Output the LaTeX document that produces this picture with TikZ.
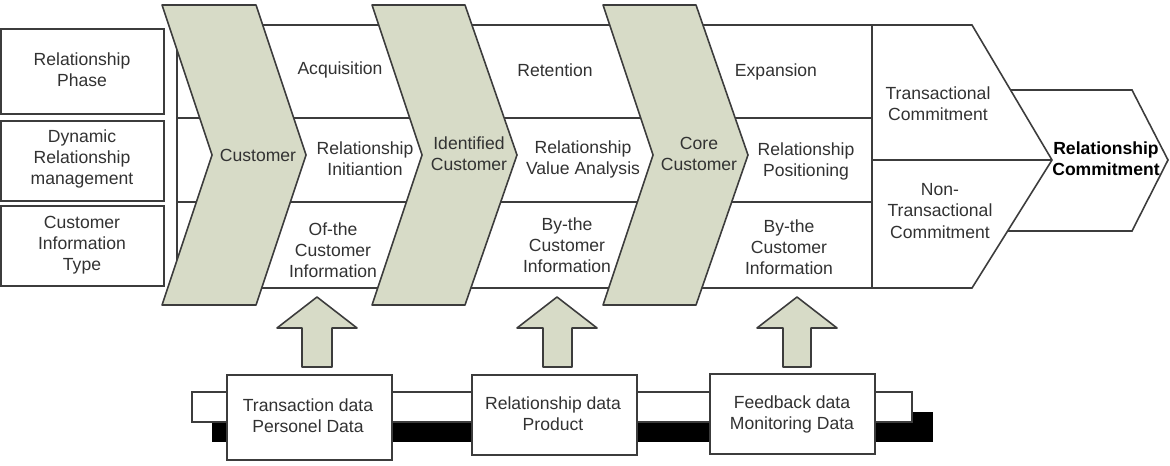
\documentclass[tikz,border=0pt]{standalone}
\usepackage{fontspec}
\setmainfont{Liberation Sans}
\usepackage{xcolor}
\usepackage{tikz}
\definecolor{chevfill}{RGB}{215,219,199}
\definecolor{edgegray}{RGB}{60,60,60}
\definecolor{textgray}{RGB}{50,50,50}

\begin{document}
\begin{tikzpicture}[x=0.02cm,y=-0.02cm,
        lbl/.style={font=\fontsize{10}{12}\selectfont, text=textgray, align=center, inner sep=0pt},
        box/.style={draw=edgegray, line width=0.9pt, fill=white},
        chev/.style={draw=edgegray, line width=0.9pt, fill=chevfill, line join=round}]

        \useasboundingbox (0,0) rectangle (1170,466);

        %% Final arrow, partly hidden behind the commitment block
        \draw [box] (1000,90) -- (1132,90) -- (1168,160) -- (1132,231) -- (1000,231) -- cycle;

        %% Commitment block
        \draw [box] (872,25) -- (972,25) -- (1052,160) -- (972,288) -- (872,288) -- cycle;
        \draw [box] (872,160) -- (1052,160);

        %% The three rows of the band
        \draw [box] (177,25) rectangle (872,118);
        \draw [box] (177,118) rectangle (872,202);
        \draw [box] (177,202) rectangle (872,288);
        \draw [edgegray, line width=1.5pt] (177,118) -- (872,118);
        \draw [edgegray, line width=1.5pt] (177,202) -- (872,202);

        %% Left-hand boxes
        \draw [box] (1,29) rectangle (164,114);
        \draw [box] (1,121) rectangle (164,201);
        \draw [box] (1,206) rectangle (164,286);

        %% Chevrons
        \draw [chev] (162,5) -- (256,5) -- (306,155) -- (256,305) -- (162,305) -- (212,155) -- cycle;
        \draw [chev] (372,5) -- (465,5) -- (517,155) -- (465,305) -- (372,305) -- (422,155) -- cycle;
        \draw [chev] (603,5) -- (696,5) -- (748,155) -- (696,305) -- (603,305) -- (653,155) -- cycle;

        %% Up arrows
        \draw [chev] (317,297) -- (357,328) -- (332,328) -- (332,367) -- (302,367) -- (302,328) -- (277,328) -- cycle;
        \draw [chev] (557,297) -- (597,328) -- (572,328) -- (572,367) -- (543,367) -- (543,328) -- (517,328) -- cycle;
        \draw [chev] (797,297) -- (837,328) -- (811,328) -- (811,367) -- (783,367) -- (783,328) -- (757,328) -- cycle;

        %% Data bar and its shadow
        \fill [black] (212,412) rectangle (933,442);
        \draw [box] (192,392) rectangle (912,422);

        %% Data boxes
        \draw [box] (227,375) rectangle (392,460);
        \draw [box] (472,375) rectangle (637,455);
        \draw [box] (710,374) rectangle (875,454);

        %% Left labels
        \node [lbl] (phase) at (82,70) {Relationship\\Phase};
        \node [lbl] (drm) at (82,159) {Dynamic\\Relationship\\management};
        \node [lbl] (infotype) at (82,245) {Customer\\Information\\Type};

        %% Chevron labels
        \node [lbl] (cust) at (258,155) {Customer};
        \node [lbl] (idcust) at (469,154) {Identified\\Customer};
        \node [lbl] (corecust) at (699,154) {Core\\Customer};

        %% Row 1
        \node [lbl] (acq) at (340,70) {Acquisition};
        \node [lbl] (ret) at (555,70) {Retention};
        \node [lbl] (exp) at (776,72) {Expansion};

        %% Row 2
        \node [lbl] (init) at (365,159) {Relationship\\Initiantion};
        \node [lbl] (value) at (583,159) {Relationship\\Value Analysis};
        \node [lbl] (posit) at (806,161) {Relationship\\Positioning};

        %% Row 3
        \node [lbl] (ofcust) at (333,250) {Of-the\\Customer\\Information};
        \node [lbl] (bycust-a) at (567,245) {By-the\\Customer\\Information};
        \node [lbl] (bycust-b) at (789,247) {By-the\\Customer\\Information};

        %% Commitment labels
        \node [lbl] (trans) at (938,104) {Transactional\\Commitment};
        \node [lbl] (nontrans) at (940,211) {Non-\\Transactional\\Commitment};
        \node [lbl, font=\fontsize{10}{12}\selectfont\bfseries, text=black] (relcom) at (1106,159) {Relationship\\Commitment};

        %% Data labels
        \node [lbl] (transdata) at (308,416) {Transaction data\\Personel Data};
        \node [lbl] (reldata) at (553,414) {Relationship data\\Product};
        \node [lbl] (feeddata) at (792,414) {Feedback data\\Monitoring Data};
\end{tikzpicture}
\end{document}
